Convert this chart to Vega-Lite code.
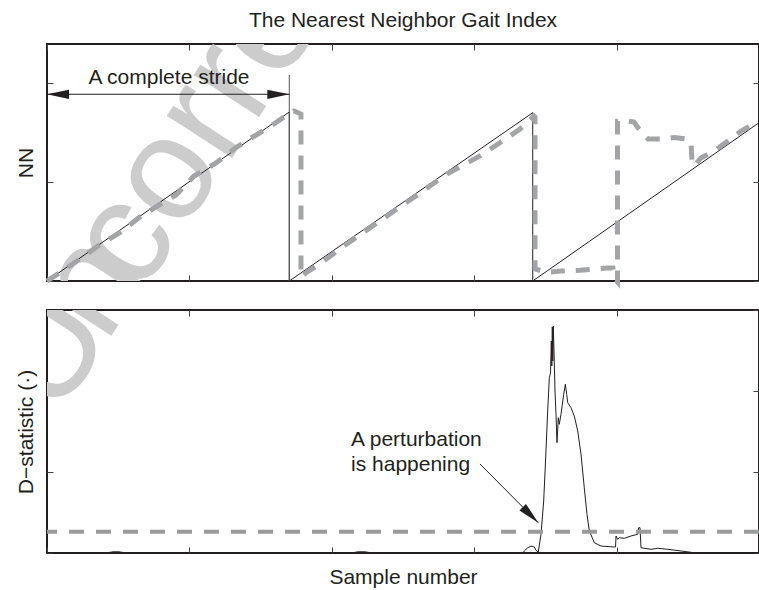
{
  "$schema": "https://vega.github.io/schema/vega-lite/v6.json",
  "padding": {"left": 14, "top": 8, "right": 0, "bottom": 0},
  "spacing": 29,
  "bounds": "flush",
  "config": {
    "font": "Liberation Sans",
    "view": {"stroke": "#231f20", "strokeWidth": 2},
    "axis": {
      "grid": false, "labels": false, "domain": false,
      "ticks": true, "tickSize": -6, "tickColor": "#444444", "tickWidth": 1,
      "titleFont": "Liberation Sans", "titleFontSize": 21, "titleFontWeight": "normal", "titleColor": "#231f20"
    },
    "text": {"font": "Liberation Sans"}
  },
  "datasets": {
    "lettersTop": [
      {"ch": "c", "s": 108.1, "v": 0.405},
      {"ch": "o", "s": 168.5, "v": 1.063},
      {"ch": "r", "s": 219.1, "v": 1.61}
    ],
    "lettersTopClip": [
      {"ch": "n", "s": 61.8, "v": -0.051},
      {"ch": "r", "s": 257.0, "v": 2.025},
      {"ch": "e", "s": 307.6, "v": 2.572}
    ],
    "lettersBottom": [
      {"ch": "U", "s": 2.8, "d": 2.494},
      {"ch": "n", "s": 61.8, "d": 3.296}
    ],
    "saw": [
      {"i": 0, "s": 0, "v": 0},
      {"i": 1, "s": 340.3, "v": 1.711},
      {"i": 2, "s": 340.3, "v": 0},
      {"i": 3, "s": 682.2, "v": 1.704},
      {"i": 4, "s": 682.2, "v": 0},
      {"i": 5, "s": 1000, "v": 1.603}
    ],
    "nn": [
      {"i": 0, "s": 0, "v": 0},
      {"i": 1, "s": 19.7, "v": 0.091},
      {"i": 2, "s": 47.8, "v": 0.233},
      {"i": 3, "s": 75.8, "v": 0.375},
      {"i": 4, "s": 103.9, "v": 0.496},
      {"i": 5, "s": 132.0, "v": 0.658},
      {"i": 6, "s": 160.1, "v": 0.78},
      {"i": 7, "s": 181.2, "v": 0.871},
      {"i": 8, "s": 206.5, "v": 1.063},
      {"i": 9, "s": 237.4, "v": 1.195},
      {"i": 10, "s": 262.6, "v": 1.337},
      {"i": 11, "s": 286.5, "v": 1.448},
      {"i": 12, "s": 310.4, "v": 1.549},
      {"i": 13, "s": 332.9, "v": 1.661},
      {"i": 14, "s": 346.9, "v": 1.722},
      {"i": 15, "s": 356.7, "v": 1.691},
      {"i": 16, "s": 356.7, "v": 0.04},
      {"i": 17, "s": 365.0, "v": 0.09},
      {"i": 18, "s": 384.8, "v": 0.182},
      {"i": 19, "s": 412.9, "v": 0.334},
      {"i": 20, "s": 441.0, "v": 0.476},
      {"i": 21, "s": 473.3, "v": 0.638},
      {"i": 22, "s": 501.4, "v": 0.78},
      {"i": 23, "s": 514.0, "v": 0.841},
      {"i": 24, "s": 561.8, "v": 1.084},
      {"i": 25, "s": 608.1, "v": 1.266},
      {"i": 26, "s": 646.1, "v": 1.448},
      {"i": 27, "s": 664.3, "v": 1.539},
      {"i": 28, "s": 677.0, "v": 1.62},
      {"i": 29, "s": 683.6, "v": 1.671},
      {"i": 30, "s": 685.4, "v": 1.661},
      {"i": 31, "s": 685.4, "v": 0.122},
      {"i": 32, "s": 702.2, "v": 0.086},
      {"i": 33, "s": 721.9, "v": 0.101},
      {"i": 34, "s": 748.6, "v": 0.108},
      {"i": 35, "s": 786.5, "v": 0.132},
      {"i": 36, "s": 794.9, "v": 0.132},
      {"i": 37, "s": 797.8, "v": 0.02},
      {"i": 38, "s": 801.3, "v": -0.01},
      {"i": 39, "s": 801.3, "v": 1.62},
      {"i": 40, "s": 806.2, "v": 1.63},
      {"i": 41, "s": 824.4, "v": 1.61},
      {"i": 42, "s": 834.3, "v": 1.509},
      {"i": 43, "s": 844.1, "v": 1.438},
      {"i": 44, "s": 862.4, "v": 1.438},
      {"i": 45, "s": 880.6, "v": 1.453},
      {"i": 46, "s": 898.9, "v": 1.438},
      {"i": 47, "s": 904.5, "v": 1.408},
      {"i": 48, "s": 905.9, "v": 1.215},
      {"i": 49, "s": 908.7, "v": 1.165},
      {"i": 50, "s": 918.5, "v": 1.246},
      {"i": 51, "s": 936.8, "v": 1.316},
      {"i": 52, "s": 956.5, "v": 1.418},
      {"i": 53, "s": 974.7, "v": 1.519},
      {"i": 54, "s": 993.0, "v": 1.59},
      {"i": 55, "s": 1000, "v": 1.61}
    ],
    "stride": [{"s": 0, "s2": 340.3, "v": 1.891}],
    "marker": [{"s": 340.3, "v": 0, "v2": 2.086}],
    "strideLeft": [{"s": 0, "v": 1.891}],
    "strideRight": [{"s": 340.3, "v": 1.891}],
    "strideText": [{"s": 171.3, "v": 1.992, "label": "A complete stride"}],
    "dstat": [
      {"i": 0, "s": 0, "d": 0},
      {"i": 1, "s": 82.9, "d": 0},
      {"i": 2, "s": 92.7, "d": 0.015},
      {"i": 3, "s": 101.1, "d": 0.015},
      {"i": 4, "s": 111.0, "d": 0},
      {"i": 5, "s": 427.0, "d": 0},
      {"i": 6, "s": 436.8, "d": 0.015},
      {"i": 7, "s": 446.6, "d": 0.015},
      {"i": 8, "s": 456.5, "d": 0},
      {"i": 9, "s": 668.5, "d": 0},
      {"i": 10, "s": 670.4, "d": 0.025},
      {"i": 11, "s": 675.1, "d": 0.065},
      {"i": 12, "s": 679.8, "d": 0.086},
      {"i": 13, "s": 684.4, "d": 0.074},
      {"i": 14, "s": 686.8, "d": 0.033},
      {"i": 15, "s": 690.0, "d": 0.012},
      {"i": 16, "s": 693.8, "d": 0.231},
      {"i": 17, "s": 697.6, "d": 0.642},
      {"i": 18, "s": 700.8, "d": 1.259},
      {"i": 19, "s": 703.2, "d": 1.753},
      {"i": 20, "s": 705.5, "d": 2.164},
      {"i": 21, "s": 707.2, "d": 2.222},
      {"i": 22, "s": 708.3, "d": 2.617},
      {"i": 23, "s": 709.0, "d": 2.309},
      {"i": 24, "s": 709.7, "d": 2.79},
      {"i": 25, "s": 710.4, "d": 2.37},
      {"i": 26, "s": 711.1, "d": 2.802},
      {"i": 27, "s": 712.1, "d": 2.494},
      {"i": 28, "s": 713.5, "d": 2.0},
      {"i": 29, "s": 714.9, "d": 1.712},
      {"i": 30, "s": 716.3, "d": 1.362},
      {"i": 31, "s": 718.1, "d": 1.67},
      {"i": 32, "s": 719.5, "d": 1.589},
      {"i": 33, "s": 721.9, "d": 1.712},
      {"i": 34, "s": 725.7, "d": 1.959},
      {"i": 35, "s": 728.0, "d": 2.083},
      {"i": 36, "s": 729.9, "d": 1.959},
      {"i": 37, "s": 731.3, "d": 1.856},
      {"i": 38, "s": 735.9, "d": 1.794},
      {"i": 39, "s": 740.6, "d": 1.691},
      {"i": 40, "s": 745.4, "d": 1.506},
      {"i": 41, "s": 750.0, "d": 1.219},
      {"i": 42, "s": 754.6, "d": 0.806},
      {"i": 43, "s": 758.4, "d": 0.478},
      {"i": 44, "s": 761.7, "d": 0.272},
      {"i": 45, "s": 768.7, "d": 0.127},
      {"i": 46, "s": 778.1, "d": 0.086},
      {"i": 47, "s": 796.8, "d": 0.074},
      {"i": 48, "s": 798.5, "d": 0.074},
      {"i": 49, "s": 799.2, "d": 0.21},
      {"i": 50, "s": 801.5, "d": 0.169},
      {"i": 51, "s": 803.8, "d": 0.189},
      {"i": 52, "s": 810.8, "d": 0.181},
      {"i": 53, "s": 820.2, "d": 0.21},
      {"i": 54, "s": 829.6, "d": 0.231},
      {"i": 55, "s": 831.0, "d": 0.312},
      {"i": 56, "s": 832.9, "d": 0.312},
      {"i": 57, "s": 834.3, "d": 0.065},
      {"i": 58, "s": 848.3, "d": 0.046},
      {"i": 59, "s": 857.7, "d": 0.058},
      {"i": 60, "s": 871.8, "d": 0.046},
      {"i": 61, "s": 890.4, "d": 0.025},
      {"i": 62, "s": 904.5, "d": 0.009},
      {"i": 63, "s": 907.3, "d": 0},
      {"i": 64, "s": 1000, "d": 0}
    ],
    "threshold": [{"d": 0.263}],
    "pertArrow": [{"s": 608.1, "d": 1.099, "s2": 690.0, "d2": 0.374}],
    "pertHead": [{"s": 690.0, "d": 0.374}],
    "pertText": [
      {"s": 427, "d": 1.321, "label": "A perturbation"},
      {"s": 427, "d": 1.012, "label": "is happening"}
    ]
  },
  "vconcat": [
    {
      "width": 712,
      "height": 237,
      "title": {"text": "The Nearest Neighbor Gait Index", "fontSize": 21, "fontWeight": "normal", "color": "#231f20", "font": "Liberation Sans", "frame": "group", "anchor": "middle", "baseline": "alphabetic", "offset": -4},
      "resolve": {"axis": {"x": "independent", "y": "independent"}},
      "layer": [
        {
          "data": {"name": "lettersTop"},
          "mark": {"type": "text", "fontSize": 147, "angle": -57, "color": "#cccccc", "align": "center", "baseline": "middle", "clip": false},
          "encoding": {
            "x": {"field": "s", "type": "quantitative", "scale": {"domain": [0, 1000]}, "axis": null},
            "y": {"field": "v", "type": "quantitative", "scale": {"domain": [0, 2.4]}, "axis": null},
            "text": {"field": "ch"}
          }
        },
        {
          "data": {"name": "lettersTopClip"},
          "mark": {"type": "text", "fontSize": 147, "angle": -57, "color": "#cccccc", "align": "center", "baseline": "middle", "clip": true},
          "encoding": {
            "x": {"field": "s", "type": "quantitative", "axis": null},
            "y": {"field": "v", "type": "quantitative", "axis": null},
            "text": {"field": "ch"}
          }
        },
        {
          "data": {"name": "saw"},
          "mark": {"type": "line", "color": "#231f20", "strokeWidth": 1},
          "encoding": {
            "x": {"field": "s", "type": "quantitative", "scale": {"domain": [0, 1000]}, "axis": {"orient": "bottom", "title": null, "values": [0, 200, 400, 600, 800, 1000]}},
            "y": {"field": "v", "type": "quantitative", "scale": {"domain": [0, 2.4]}, "axis": {"orient": "left", "title": "NN", "values": [0, 1, 2], "titlePadding": 10}},
            "order": {"field": "i"}
          }
        },
        {
          "data": {"name": "marker"},
          "mark": {"type": "rule", "color": "#555555", "strokeWidth": 1},
          "encoding": {
            "x": {"field": "s", "type": "quantitative", "axis": null},
            "y": {"field": "v", "type": "quantitative", "axis": null},
            "y2": {"field": "v2"}
          }
        },
        {
          "data": {"name": "nn"},
          "mark": {"type": "line", "color": "#a2a4a7", "strokeWidth": 5, "strokeDash": [14, 11], "strokeCap": "butt"},
          "encoding": {
            "x": {"field": "s", "type": "quantitative", "axis": {"orient": "top", "title": null, "values": [0, 200, 400, 600, 800, 1000]}},
            "y": {"field": "v", "type": "quantitative", "axis": {"orient": "right", "title": null, "values": [0, 1, 2]}},
            "order": {"field": "i"}
          }
        },
        {
          "data": {"name": "stride"},
          "mark": {"type": "rule", "color": "#231f20", "strokeWidth": 1},
          "encoding": {
            "x": {"field": "s", "type": "quantitative", "axis": null},
            "x2": {"field": "s2"},
            "y": {"field": "v", "type": "quantitative", "axis": null}
          }
        },
        {
          "data": {"name": "strideLeft"},
          "mark": {"type": "point", "shape": "M 0 0 L -2 -0.42 L -2 0.42 Z", "size": 484, "filled": true, "opacity": 1, "color": "#231f20", "angle": 180},
          "encoding": {
            "x": {"field": "s", "type": "quantitative", "axis": null},
            "y": {"field": "v", "type": "quantitative", "axis": null}
          }
        },
        {
          "data": {"name": "strideRight"},
          "mark": {"type": "point", "shape": "M 0 0 L -2 -0.42 L -2 0.42 Z", "size": 484, "filled": true, "opacity": 1, "color": "#231f20", "angle": 0},
          "encoding": {
            "x": {"field": "s", "type": "quantitative", "axis": null},
            "y": {"field": "v", "type": "quantitative", "axis": null}
          }
        },
        {
          "data": {"name": "strideText"},
          "mark": {"type": "text", "fontSize": 21, "color": "#231f20", "align": "center", "baseline": "alphabetic"},
          "encoding": {
            "x": {"field": "s", "type": "quantitative", "axis": null},
            "y": {"field": "v", "type": "quantitative", "axis": null},
            "text": {"field": "label"}
          }
        }
      ]
    },
    {
      "width": 712,
      "height": 243,
      "resolve": {"axis": {"x": "independent", "y": "independent"}},
      "layer": [
        {
          "data": {"name": "lettersBottom"},
          "mark": {"type": "text", "fontSize": 147, "angle": -57, "color": "#cccccc", "align": "center", "baseline": "middle", "clip": true},
          "encoding": {
            "x": {"field": "s", "type": "quantitative", "scale": {"domain": [0, 1000]}, "axis": null},
            "y": {"field": "d", "type": "quantitative", "scale": {"domain": [0, 3]}, "axis": null},
            "text": {"field": "ch"}
          }
        },
        {
          "data": {"name": "dstat"},
          "mark": {"type": "line", "color": "#231f20", "strokeWidth": 1},
          "encoding": {
            "x": {"field": "s", "type": "quantitative", "scale": {"domain": [0, 1000]}, "axis": {"orient": "bottom", "title": "Sample number", "values": [0, 200, 400, 600, 800, 1000], "titlePadding": 13}},
            "y": {"field": "d", "type": "quantitative", "scale": {"domain": [0, 3]}, "axis": {"orient": "left", "title": "D−statistic (·)", "values": [0, 1, 2, 3], "titlePadding": 10}},
            "order": {"field": "i"}
          }
        },
        {
          "data": {"name": "threshold"},
          "mark": {"type": "rule", "color": "#9a9a9a", "strokeWidth": 4, "strokeDash": [15, 12]},
          "encoding": {
            "y": {"field": "d", "type": "quantitative", "axis": null}
          }
        },
        {
          "data": {"name": "pertArrow"},
          "mark": {"type": "rule", "color": "#231f20", "strokeWidth": 1},
          "encoding": {
            "x": {"field": "s", "type": "quantitative", "axis": {"orient": "top", "title": null, "values": [0, 200, 400, 600, 800, 1000]}},
            "y": {"field": "d", "type": "quantitative", "axis": {"orient": "right", "title": null, "values": [0, 1, 2, 3]}},
            "x2": {"field": "s2"},
            "y2": {"field": "d2"}
          }
        },
        {
          "data": {"name": "pertHead"},
          "mark": {"type": "point", "shape": "M 0 0 L -2 -0.42 L -2 0.42 Z", "size": 484, "filled": true, "opacity": 1, "color": "#231f20", "angle": 45},
          "encoding": {
            "x": {"field": "s", "type": "quantitative", "axis": null},
            "y": {"field": "d", "type": "quantitative", "axis": null}
          }
        },
        {
          "data": {"name": "pertText"},
          "mark": {"type": "text", "fontSize": 21, "color": "#231f20", "align": "left", "baseline": "alphabetic"},
          "encoding": {
            "x": {"field": "s", "type": "quantitative", "axis": null},
            "y": {"field": "d", "type": "quantitative", "axis": null},
            "text": {"field": "label"}
          }
        }
      ]
    }
  ]
}
